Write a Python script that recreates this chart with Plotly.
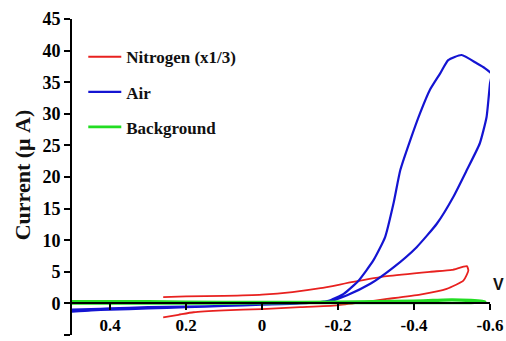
import plotly.graph_objects as go

# Nitrogen (x1/3) loop
n2_v = [0.26, 0.2, 0.1, 0.0, -0.08, -0.154, -0.24, -0.329, -0.442, -0.50, -0.539, -0.543, -0.530, -0.486, -0.416, -0.329, -0.266, -0.197, -0.1, 0.0, 0.1, 0.18, 0.22, 0.26]
n2_i = [1.0, 1.1, 1.2, 1.4, 1.8, 2.4, 3.4, 4.3, 5.0, 5.3, 5.9, 5.2, 3.6, 2.3, 1.4, 0.7, 0.2, -0.3, -0.6, -0.9, -1.1, -1.4, -1.8, -2.2]

# Air loop
air_v = [0.5, 0.45, 0.4, 0.3, 0.2, 0.1, 0.0, -0.1, -0.15, -0.18, -0.215, -0.254, -0.293, -0.324, -0.346, -0.364, -0.39, -0.416, -0.442, -0.469, -0.490, -0.525, -0.565, -0.587, -0.604,
         -0.600, -0.591, -0.573, -0.539, -0.503, -0.460, -0.407, -0.346, -0.285, -0.224, -0.18, -0.1, 0.0, 0.1, 0.2, 0.3, 0.4, 0.45, 0.5]
air_i = [-1.3, -1.1, -1.0, -0.8, -0.6, -0.4, -0.2, 0.0, 0.2, 0.5, 1.5, 3.6, 6.8, 10.5, 15.8, 21.1, 25.8, 30.1, 33.8, 36.4, 38.5, 39.3, 38.0, 37.2, 36.3,
         34.8, 29.5, 25.3, 21.1, 16.8, 12.6, 8.9, 5.7, 3.1, 1.3, 0.4, 0.0, -0.2, -0.4, -0.5, -0.6, -0.8, -0.9, -1.0]

# Background loop
bg_v = [0.5, 0.3, 0.1, -0.1, -0.3, -0.4, -0.45, -0.5, -0.55, -0.587, -0.55, -0.45, -0.3, -0.1, 0.1, 0.3, 0.5]
bg_i = [0.3, 0.3, 0.2, 0.2, 0.3, 0.4, 0.5, 0.6, 0.5, 0.3, 0.1, 0.1, 0.1, 0.1, 0.0, 0.0, 0.0]

y_ticks = [-5, 0, 5, 10, 15, 20, 25, 30, 35, 40, 45]
x_ticks = [0.4, 0.2, 0, -0.2, -0.4, -0.6]
x_tick_labels = ["0.4", "0.2", "0", "-0.2", "-0.4", "-0.6"]

serif = "Liberation Serif"

fig = go.Figure()
fig.add_trace(go.Scatter(x=n2_v, y=n2_i, mode="lines", name="<b>Nitrogen (x1/3)</b>",
                         line=dict(color="#e8211f", width=1.8, shape="spline", smoothing=0.5), legendgroup="a"))
fig.add_trace(go.Scatter(x=air_v, y=air_i, mode="lines", name="<b>Air</b>",
                         line=dict(color="#1414d2", width=2.2, shape="spline", smoothing=0.5), legendgroup="b"))
fig.add_trace(go.Scatter(x=bg_v, y=bg_i, mode="lines", name="<b>Background</b>",
                         line=dict(color="#22dd22", width=2.8, shape="spline", smoothing=0.5), legendgroup="c"))

fig.update_layout(
    width=506, height=341,
    margin=dict(l=72, r=16, t=19, b=6, autoexpand=False),
    paper_bgcolor="white", plot_bgcolor="white",
    font=dict(family=serif, color="black"),
    legend=dict(x=0.027, y=0.936, xanchor="left", yanchor="top", itemwidth=33,
                font=dict(family=serif, size=17, color="#111"),
                tracegroupgap=10, traceorder="grouped", bgcolor="rgba(0,0,0,0)"),
    xaxis=dict(range=[0.5, -0.6], tickvals=x_ticks, ticktext=["<b>%s</b>" % t for t in x_tick_labels],
               anchor="free", position=0.1, showline=True, linecolor="black", linewidth=2,
               ticks="outside", ticklen=6, tickwidth=2, tickcolor="black",
               ticklabelstandoff=0, automargin=False,
               tickfont=dict(family=serif, size=17), showgrid=False, zeroline=False),
    yaxis=dict(range=[-5, 45], tickvals=y_ticks, ticktext=["<b>%d</b>" % t for t in y_ticks],
               showline=True, linecolor="black", linewidth=2, automargin=False,
               ticks="outside", ticklen=6, tickwidth=2, tickcolor="black",
               tickfont=dict(family=serif, size=18), showgrid=False, zeroline=False),
    annotations=[
        dict(text="<b>V</b>", xref="paper", yref="y", x=1.02, y=3.0,
             xanchor="center", yanchor="middle", showarrow=False,
             font=dict(family="Liberation Sans", size=16, color="#111")),
        dict(text="<b>Current (μ A)</b>", xref="paper", yref="paper", x=-0.119, y=0.506,
             xanchor="center", yanchor="middle", showarrow=False, textangle=-90,
             font=dict(family=serif, size=22, color="#111")),
    ],
)

fig.write_html("out.html", config={"displayModeBar": False},
               post_script="document.body.style.margin='0px';document.body.style.overflow='hidden';")
